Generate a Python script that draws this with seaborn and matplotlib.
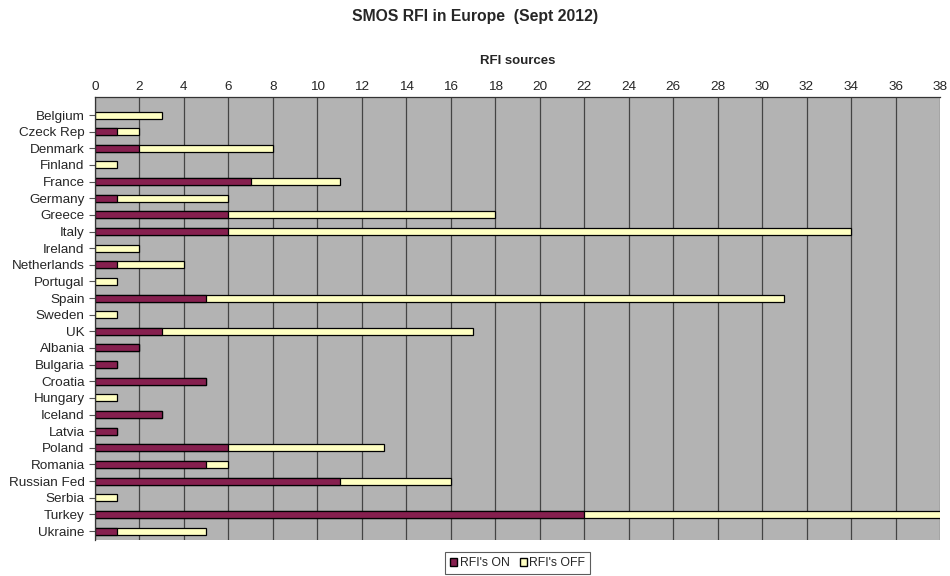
import numpy as np
import pandas as pd
import matplotlib
matplotlib.use('Agg')
import matplotlib.pyplot as plt
import seaborn as sns
from matplotlib.patches import Patch

countries = ['Belgium', 'Czeck Rep', 'Denmark', 'Finland', 'France', 'Germany',
             'Greece', 'Italy', 'Ireland', 'Netherlands', 'Portugal', 'Spain',
             'Sweden', 'UK', 'Albania', 'Bulgaria', 'Croatia', 'Hungary',
             'Iceland', 'Latvia', 'Poland', 'Romania', 'Russian Fed', 'Serbia',
             'Turkey', 'Ukraine']
rfi_on = [0, 1, 2, 0, 7, 1, 6, 6, 0, 1, 0, 5, 0, 3, 2, 1, 5, 0, 3, 1, 6, 5, 11, 0, 22, 1]
rfi_off = [3, 1, 6, 1, 4, 5, 12, 28, 2, 3, 1, 26, 1, 14, 0, 0, 0, 1, 0, 0, 7, 1, 5, 1, 17, 4]

on_color = '#86204F'
off_color = '#FFFFC2'

df = pd.DataFrame({'country': countries, 'on': rfi_on, 'off': rfi_off})
df['total'] = df['on'] + df['off']

sns.set_style('white')
plt.rcParams['font.family'] = ['Liberation Sans', 'DejaVu Sans']

fig = plt.figure(figsize=(9.5, 5.76), dpi=100)
ax = fig.add_axes([0.1, 0.0625, 0.8895, 0.769])
ax.set_facecolor('#B3B3B3')

# stacked: total in OFF colour, ON drawn over it
sns.barplot(data=df, x='total', y='country', orient='h', color=off_color,
            edgecolor='black', linewidth=0.9, width=0.42, saturation=1, ax=ax)
sns.barplot(data=df[df['on'] > 0], x='on', y='country', orient='h', color=on_color,
            edgecolor='black', linewidth=0.9, width=0.42, saturation=1, ax=ax,
            order=countries)

ax.set_xlim(0, 38)
ax.set_ylim(len(countries) - 0.46, -1.08)
ax.set_xticks(np.arange(0, 39, 2))
ax.xaxis.tick_top()
ax.xaxis.set_label_position('top')
ax.set_xlabel('RFI sources', fontsize=9.5, fontweight='bold', labelpad=12)
ax.set_ylabel('')
ax.tick_params(axis='x', labelsize=9.7, length=0, pad=3)
ax.tick_params(axis='y', labelsize=9.7, length=4, left=True, width=0.8, color='#555555')
ax.grid(axis='x', color='#444444', linewidth=0.9)
ax.set_axisbelow(True)
for s in ['top', 'left']:
    ax.spines[s].set_color('#333333')
    ax.spines[s].set_linewidth(0.9)
for s in ['right', 'bottom']:
    ax.spines[s].set_visible(False)

fig.suptitle('SMOS RFI in Europe  (Sept 2012)', fontsize=11.3, fontweight='bold', y=0.985)

handles = [Patch(facecolor=on_color, edgecolor='black', label="RFI's ON"),
           Patch(facecolor=off_color, edgecolor='black', label="RFI's OFF")]
leg = fig.legend(handles=handles, loc='center', bbox_to_anchor=(0.545, 0.022), ncol=2,
                 fontsize=8.8, frameon=True, fancybox=False, handlelength=0.6,
                 handleheight=0.6, handletextpad=0.2, columnspacing=0.8,
                 borderpad=0.4, edgecolor='#333333')
leg.get_frame().set_linewidth(0.8)

fig.savefig('out.png', dpi=100)
